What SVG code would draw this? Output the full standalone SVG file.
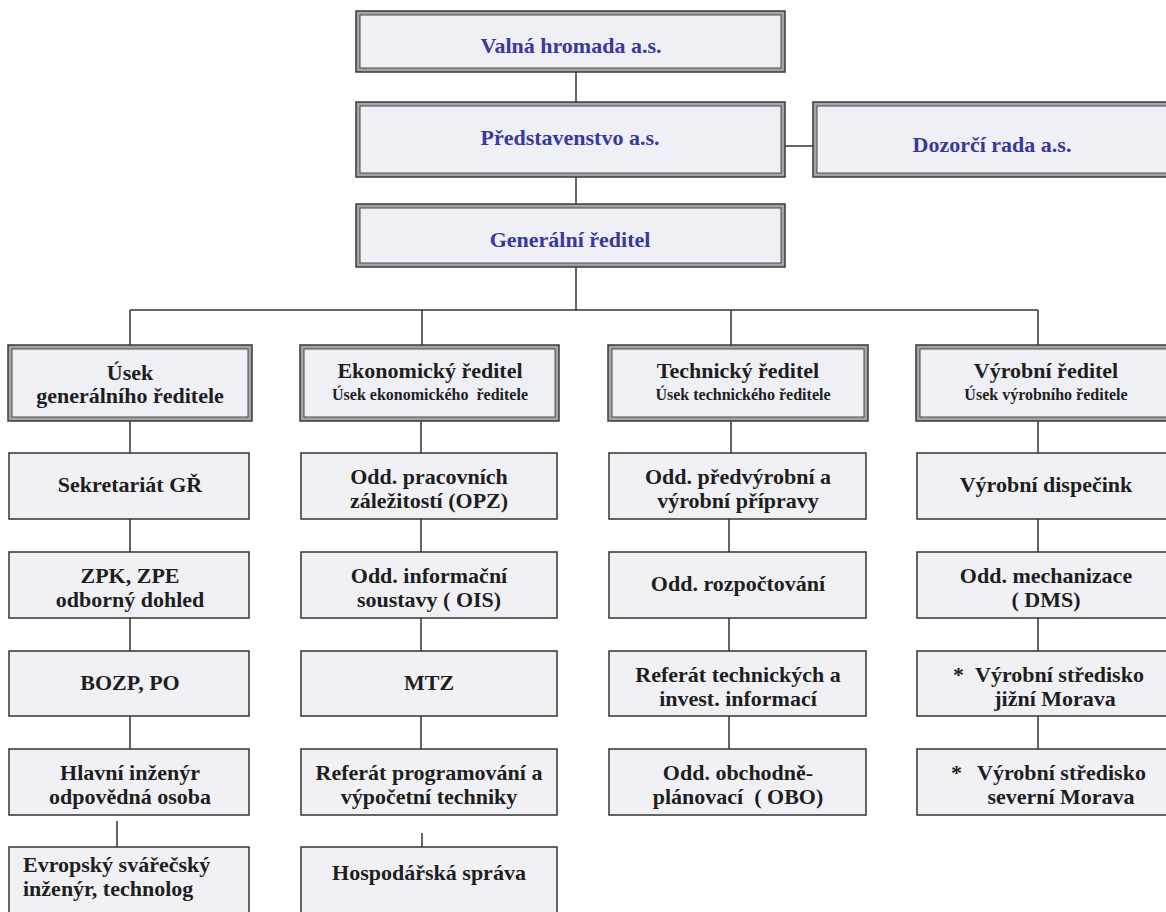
<svg xmlns="http://www.w3.org/2000/svg" width="1166" height="912" viewBox="0 0 1166 912">
  <style>
    .frame-out { fill: #a4a4a8; stroke: #3a3a3a; stroke-width: 1.5; }
    .frame-in { fill: #efeff6; stroke: #4a4a4a; stroke-width: 1; }
    .box { fill: #f1f1f5; stroke: #333; stroke-width: 1.5; }
    .wire { fill: none; stroke: #333; stroke-width: 1.5; }
    text { font-family: 'Liberation Serif', 'Times New Roman', serif; font-weight: 700; font-size: 22px; fill: #1e1e1e; text-anchor: middle; }
    .head { fill: #38389e; }
    .sub { font-size: 16px; }
    .left { text-anchor: start; }
    .pre { white-space: pre; }
  </style>

  <!-- connectors -->
  <g id="connectors">
    <path class="wire" d="M576 72V102 M576 177V204 M576 267V310 M785 146H813"/>
    <path class="wire" d="M130 310H1038 M130 310V345 M422 310V345 M731 310V345 M1038 310V345"/>
    <!-- column 1 -->
    <path class="wire" d="M130 421V453 M130 519V552 M130 618V651 M130 716V749 M117 821V847"/>
    <!-- column 2 -->
    <path class="wire" d="M421 421V453 M421 519V552 M421 618V651 M421 716V749 M422 833V849"/>
    <!-- column 3 -->
    <path class="wire" d="M731 421V453 M729 519V552 M729 618V651 M729 716V749"/>
    <!-- column 4 -->
    <path class="wire" d="M1038 421V453 M1038 519V552 M1038 618V651 M1038 716V749"/>
  </g>

  <!-- governing bodies -->
  <g id="valna-hromada">
    <rect class="frame-out" x="356" y="11" width="429" height="61"/>
    <rect class="frame-in" x="360" y="15" width="421" height="53"/>
    <text class="head" x="571" y="53">Valná hromada a.s.</text>
  </g>
  <g id="predstavenstvo">
    <rect class="frame-out" x="356" y="102" width="429" height="75"/>
    <rect class="frame-in" x="360" y="106" width="421" height="67"/>
    <text class="head" x="570" y="145">Představenstvo a.s.</text>
  </g>
  <g id="dozorci-rada">
    <rect class="frame-out" x="813" y="102" width="362" height="75"/>
    <rect class="frame-in" x="817" y="106" width="354" height="67"/>
    <text class="head" x="992" y="152">Dozorčí rada a.s.</text>
  </g>
  <g id="generalni-reditel">
    <rect class="frame-out" x="356" y="204" width="429" height="63"/>
    <rect class="frame-in" x="360" y="208" width="421" height="55"/>
    <text class="head" x="570" y="247">Generální ředitel</text>
  </g>

  <!-- divisions -->
  <g id="usek-gr">
    <rect class="frame-out" x="8" y="345" width="244" height="76"/>
    <rect class="frame-in" x="12" y="349" width="236" height="68"/>
    <text x="130" y="380">Úsek</text>
    <text x="130" y="403">generálního ředitele</text>
  </g>
  <g id="ekonomicky-reditel">
    <rect class="frame-out" x="300" y="345" width="259" height="76"/>
    <rect class="frame-in" x="304" y="349" width="251" height="68"/>
    <text x="430" y="378">Ekonomický ředitel</text>
    <text class="sub pre" x="430" y="400">Úsek ekonomického  ředitele</text>
  </g>
  <g id="technicky-reditel">
    <rect class="frame-out" x="608" y="345" width="260" height="76"/>
    <rect class="frame-in" x="612" y="349" width="252" height="68"/>
    <text x="738" y="378">Technický ředitel</text>
    <text class="sub" x="743" y="400">Úsek technického ředitele</text>
  </g>
  <g id="vyrobni-reditel">
    <rect class="frame-out" x="916" y="345" width="260" height="76"/>
    <rect class="frame-in" x="920" y="349" width="252" height="68"/>
    <text x="1046" y="378">Výrobní ředitel</text>
    <text class="sub" x="1046" y="400">Úsek výrobního ředitele</text>
  </g>

  <!-- column 1 -->
  <g id="sekretariat">
    <rect class="box" x="9" y="453" width="240" height="66"/>
    <text x="130" y="492">Sekretariát GŘ</text>
  </g>
  <g id="zpk-zpe">
    <rect class="box" x="9" y="552" width="240" height="66"/>
    <text x="130" y="583">ZPK, ZPE</text>
    <text x="130" y="607">odborný dohled</text>
  </g>
  <g id="bozp-po">
    <rect class="box" x="9" y="651" width="240" height="65"/>
    <text x="130" y="690">BOZP, PO</text>
  </g>
  <g id="hlavni-inzenyr">
    <rect class="box" x="9" y="749" width="240" height="66"/>
    <text x="130" y="780">Hlavní inženýr</text>
    <text x="130" y="804">odpovědná osoba</text>
  </g>
  <g id="svarecsky-inzenyr">
    <rect class="box" x="9" y="847" width="240" height="80"/>
    <text class="left" x="23" y="872">Evropský svářečský</text>
    <text class="left" x="23" y="896">inženýr, technolog</text>
  </g>

  <!-- column 2 -->
  <g id="opz">
    <rect class="box" x="301" y="453" width="256" height="66"/>
    <text x="429" y="484">Odd. pracovních</text>
    <text x="429" y="508">záležitostí (OPZ)</text>
  </g>
  <g id="ois">
    <rect class="box" x="301" y="552" width="256" height="66"/>
    <text x="429" y="583">Odd. informační</text>
    <text class="pre" x="429" y="607">soustavy ( OIS)</text>
  </g>
  <g id="mtz">
    <rect class="box" x="301" y="651" width="256" height="65"/>
    <text x="429" y="690">MTZ</text>
  </g>
  <g id="referat-programovani">
    <rect class="box" x="301" y="749" width="256" height="66"/>
    <text x="429" y="780">Referát programování a</text>
    <text x="429" y="804">výpočetní techniky</text>
  </g>
  <g id="hospodarska-sprava">
    <rect class="box" x="301" y="847" width="256" height="80"/>
    <text x="429" y="880">Hospodářská správa</text>
  </g>

  <!-- column 3 -->
  <g id="predvyrobni">
    <rect class="box" x="609" y="453" width="257" height="66"/>
    <text x="738" y="484">Odd. předvýrobní a</text>
    <text x="738" y="508">výrobní přípravy</text>
  </g>
  <g id="rozpoctovani">
    <rect class="box" x="609" y="552" width="257" height="66"/>
    <text x="738" y="591">Odd. rozpočtování</text>
  </g>
  <g id="referat-technickych">
    <rect class="box" x="609" y="651" width="257" height="65"/>
    <text x="738" y="682">Referát technických a</text>
    <text x="738" y="706">invest. informací</text>
  </g>
  <g id="obo">
    <rect class="box" x="609" y="749" width="257" height="66"/>
    <text x="738" y="780">Odd. obchodně-</text>
    <text class="pre" x="738" y="804">plánovací  ( OBO)</text>
  </g>

  <!-- column 4 -->
  <g id="dispecink">
    <rect class="box" x="917" y="453" width="260" height="66"/>
    <text x="1046" y="492">Výrobní dispečink</text>
  </g>
  <g id="mechanizace">
    <rect class="box" x="917" y="552" width="260" height="66"/>
    <text x="1046" y="583">Odd. mechanizace</text>
    <text class="pre" x="1046" y="607">( DMS)</text>
  </g>
  <g id="stredisko-jih">
    <rect class="box" x="917" y="651" width="260" height="65"/>
    <text class="left" y="682"><tspan x="953">* </tspan><tspan x="975">Výrobní středisko</tspan></text>
    <text x="1055" y="706">jižní Morava</text>
  </g>
  <g id="stredisko-sever">
    <rect class="box" x="917" y="749" width="260" height="66"/>
    <text class="left" y="780"><tspan x="951">* </tspan><tspan x="977">Výrobní středisko</tspan></text>
    <text x="1061" y="804">severní Morava</text>
  </g>
</svg>
